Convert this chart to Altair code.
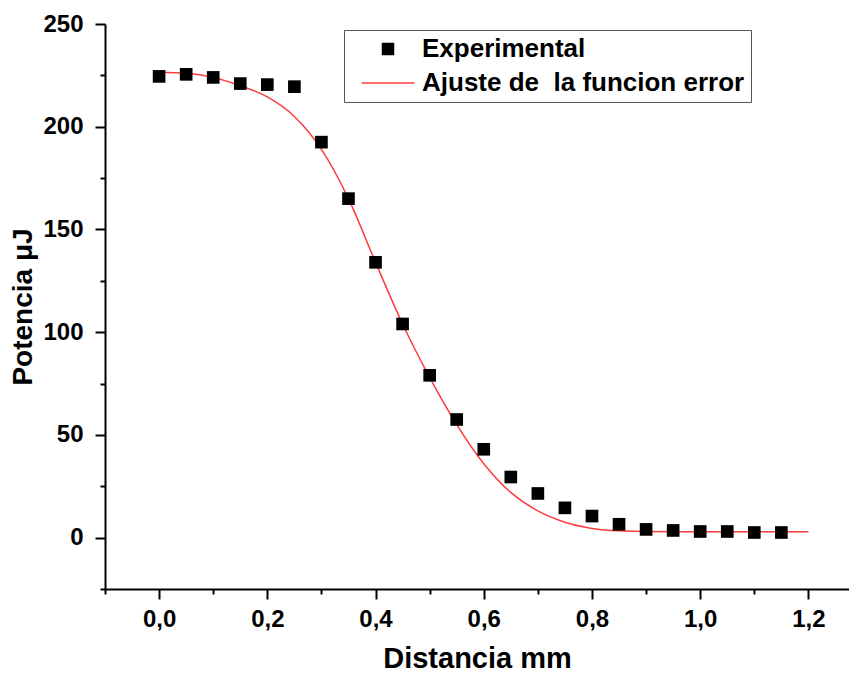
import altair as alt
import pandas as pd

# Experimental data (Distancia mm, Potencia uJ)
exp_x = [0.00, 0.05, 0.10, 0.15, 0.20, 0.25, 0.30, 0.35, 0.40, 0.45, 0.50, 0.55,
         0.60, 0.65, 0.70, 0.75, 0.80, 0.85, 0.90, 0.95, 1.00, 1.05, 1.10, 1.15]
exp_y = [224.5, 225.5, 224.0, 221.0, 220.5, 219.5, 192.5, 165.0, 134.0, 104.0, 79.0, 57.5,
         43.0, 29.5, 21.5, 14.5, 10.5, 6.5, 4.0, 3.5, 3.0, 3.0, 2.5, 2.5]

# Error-function fit curve
fit_x = [0.00, 0.05, 0.10, 0.15, 0.20, 0.25, 0.30, 0.35, 0.40, 0.45, 0.50, 0.55, 0.60,
         0.65, 0.70, 0.75, 0.80, 0.85, 0.90, 0.95, 1.00, 1.05, 1.10, 1.15, 1.20]
fit_y = [226.5, 226.0, 224.0, 220.0, 214.5, 205.0, 189.0, 165.0, 134.0, 104.0, 78.0, 55.0, 36.0,
         22.0, 13.0, 7.5, 4.5, 3.3, 3.0, 2.9, 2.9, 2.9, 2.9, 2.9, 2.9]

series = ["Experimental", "Ajuste de\u00a0 la funcion error"]
x_ticks = [-0.1, 0.0, 0.1, 0.2, 0.3, 0.4, 0.5, 0.6, 0.7, 0.8, 0.9, 1.0, 1.1, 1.2]
y_ticks = [-25, 0, 25, 50, 75, 100, 125, 150, 175, 200, 225, 250]

exp_df = pd.DataFrame({"x": exp_x, "y": exp_y, "serie": series[0]})
fit_df = pd.DataFrame({"x": fit_x, "y": fit_y, "serie": series[1]})

FONT = "Liberation Sans"

x_enc = alt.X(
    "x:Q",
    scale=alt.Scale(domain=[-0.1, 1.275], nice=False, zero=False),
    axis=alt.Axis(
        values=x_ticks,
        title="Distancia mm",
        labelExpr="round(datum.value*10) % 2 === 0 ? replace(format(datum.value, '.1f'), '.', ',') : ''",
        tickSize={"condition": {"test": "round(datum.value*10) % 2 === 0", "value": 10}, "value": 5},
        labelPadding=8,
        titlePadding=13,
        titleFontSize=29,
    ),
)
y_enc = alt.Y(
    "y:Q",
    scale=alt.Scale(domain=[-25, 250], nice=False, zero=False),
    axis=alt.Axis(
        values=y_ticks,
        title="Potencia μJ",
        labelExpr="datum.value % 50 === 0 ? datum.value : ''",
        tickSize={"condition": {"test": "datum.value % 50 === 0", "value": 10}, "value": 5},
        labelPadding=12,
        titlePadding=5,
        titleFontSize=28,
    ),
)

color = alt.Color(
    "serie:N",
    scale=alt.Scale(domain=series, range=["#000000", "#ff3b3b"]),
    legend=alt.Legend(
        title=None,
        orient="none",
        legendX=239,
        legendY=6,
        strokeColor="#555555",
        fillColor="white",
        padding=6,
        symbolOffset=25,
        labelOffset=21,
        rowPadding=8,
        symbolSize=121,
        symbolStrokeWidth=1.5,
        symbolStrokeColor={"expr": "datum.index === 1 ? '#ff3b3b' : '#000000'"},
        symbolFillColor={"expr": "datum.index === 1 ? '#ff3b3b' : '#000000'"},
        labelFont=FONT,
        labelFontSize=26,
        labelFontWeight="bold",
        labelColor="#000000",
        labelLimit=600,
    ),
)
shape = alt.Shape(
    "serie:N",
    scale=alt.Scale(domain=series, range=["square", "M-4.8,0H4.8"]),
    legend=None,
)

points = alt.Chart(exp_df).mark_point(filled=True, size=160, opacity=1).encode(
    x=x_enc, y=y_enc, color=color, shape=shape
)
line = alt.Chart(fit_df).mark_line(strokeWidth=1.5, interpolate="monotone").encode(
    x=x_enc, y=y_enc, color=color
)

chart = alt.layer(line, points).properties(
    width=744,
    height=565,
    autosize=alt.AutoSizeParams(type="none"),
    padding={"left": 97, "top": 16, "right": 0, "bottom": 84},
).configure_view(stroke=None).configure_axis(
    grid=False,
    domainColor="#000000",
    domainWidth=2,
    tickColor="#000000",
    tickWidth=2,
    labelFont=FONT,
    labelFontSize=24,
    labelFontWeight="bold",
    labelColor="#000000",
    titleFont=FONT,
    titleFontWeight="bold",
    titleColor="#000000",
)

chart.save("out.html", embed_options={"renderer": "svg", "actions": False})
